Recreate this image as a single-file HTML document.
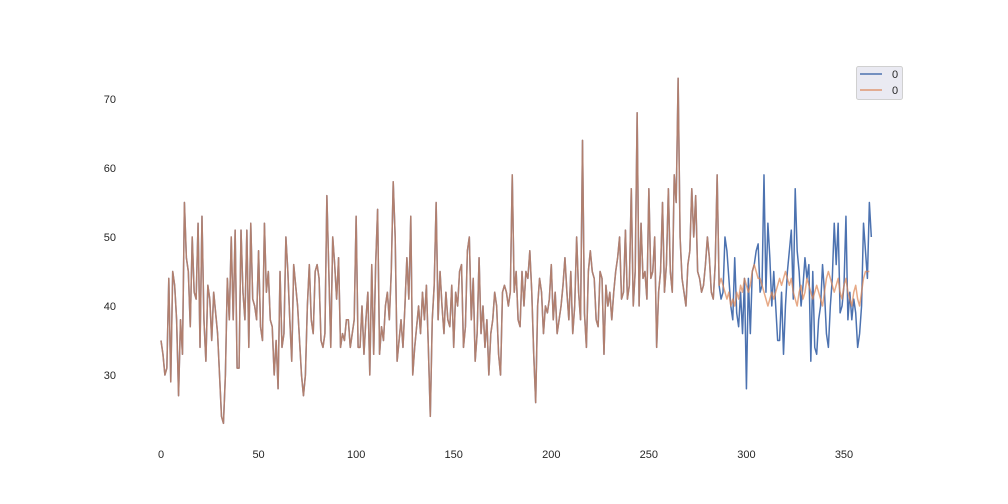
<!DOCTYPE html>
<html><head><meta charset="utf-8"><style>
body{margin:0;background:#fff;}
svg{display:block;font-family:"Liberation Sans",sans-serif;}
</style></head><body>
<svg id="chart" width="1008" height="504">
<g id="xticks"></g>
<g id="yticks"></g>
<g id="plot"></g>
<g>
<rect x="856.5" y="66.5" width="46" height="33" rx="2" fill="#eaeaf2" stroke="#d0d0d0" stroke-width="1"/>
<line x1="860" y1="74" x2="882" y2="74" stroke="#4c72b0" stroke-width="1.5"/>
<text x="892" y="78" font-size="11" fill="#262626">0</text>
<line x1="860" y1="90" x2="882" y2="90" stroke="#dd8452" stroke-width="1.5" opacity="0.8"/>
<text x="892" y="94" font-size="11" fill="#262626">0</text>
</g>
</svg>
<script>
const actual=[35,33,30,31,44,29,45,43,38,27,38,33,55,47,45,37,50,42,41,52,34,53,38,32,43,41,35,42,39,36,30,24,23,30,44,38,50,38,51,31,31,51,42,38,51,34,52,41,40,38,48,37,35,52,42,45,38,37,30,35,28,45,34,36,50,45,38,32,46,43,40,35,30,27,30,40,46,38,36,45,46,44,35,34,36,56,45,34,50,46,41,47,34,36,35,38,38,34,36,38,53,34,34,40,33,38,42,30,46,33,46,54,33,37,35,40,42,38,45,58,50,32,35,38,34,40,47,41,53,30,34,37,40,36,42,38,43,34,24,38,43,55,38,45,40,36,42,38,37,43,34,42,40,45,46,34,37,48,50,38,44,32,36,47,36,40,34,38,30,36,38,42,40,33,30,42,43,42,40,42,59,42,45,38,37,45,40,45,44,48,42,33,26,40,44,42,36,40,39,41,46,38,42,36,38,40,43,47,42,38,45,36,40,50,42,38,64,39,34,45,48,45,44,38,37,45,44,33,43,40,42,38,42,45,47,50,41,42,51,41,43,57,40,45,68,40,52,44,45,41,57,44,45,50,34,42,45,55,42,46,57,45,42,59,55,73,50,44,42,40,46,48,57,50,56,45,44,42,43,46,50,47,42,41,46,59,43,41,42,50,48,44,40,38,47,39,37,42,36,44,28,44,36,45,46,48,49,42,43,59,42,52,47,40,45,40,35,35,42,33,40,45,48,51,41,57,48,45,40,43,47,44,46,32,45,34,33,38,40,46,42,36,34,40,44,52,46,52,39,40,43,53,38,42,38,41,39,34,36,40,52,48,44,55,50];
const forecastStart=287;
const forecast=[44,43,42,41,42,40,41,40,42,41,43,42,44,43,42,43,45,46,45,44,44,43,42,41,40,41,42,41,42,43,44,43,44,45,44,43,44,42,41,40,42,43,41,42,44,43,42,41,42,43,42,41,40,42,44,45,44,43,42,43,44,42,41,43,44,42,41,40,42,43,41,40,42,44,45,45,45];
const xTicks=[0,50,100,150,200,250,300,350];
const yTicks=[30,40,50,60,70];
const NS="http://www.w3.org/2000/svg";
const sx=v=>161+v*(683/350);
const sy=v=>375-(v-30)*6.9;
function mk(t,a,p){const e=document.createElementNS(NS,t);for(const k in a)e.setAttribute(k,a[k]);p.appendChild(e);return e;}
const xg=document.getElementById('xticks'),yg=document.getElementById('yticks'),pg=document.getElementById('plot');
xTicks.forEach(t=>{const e=mk('text',{x:sx(t),y:458,'font-size':11,fill:'#262626','text-anchor':'middle'},xg);e.textContent=t;

});
yTicks.forEach(t=>{const e=mk('text',{x:116,y:sy(t)+4,'font-size':11,fill:'#262626','text-anchor':'end'},yg);e.textContent=t;

});
const fullOrange=actual.slice(0,forecastStart).concat(forecast);
const p1=mk('polyline',{points:actual.map((v,i)=>sx(i)+','+sy(v)).join(' '),fill:'none',stroke:'#4c72b0','stroke-width':1.5,'stroke-linejoin':'round'},pg);


const p2=mk('polyline',{points:fullOrange.map((v,i)=>sx(i)+','+sy(v)).join(' '),fill:'none',stroke:'#dd8452','stroke-width':1.5,'stroke-linejoin':'round',opacity:0.7},pg);


</script>
</body></html>
